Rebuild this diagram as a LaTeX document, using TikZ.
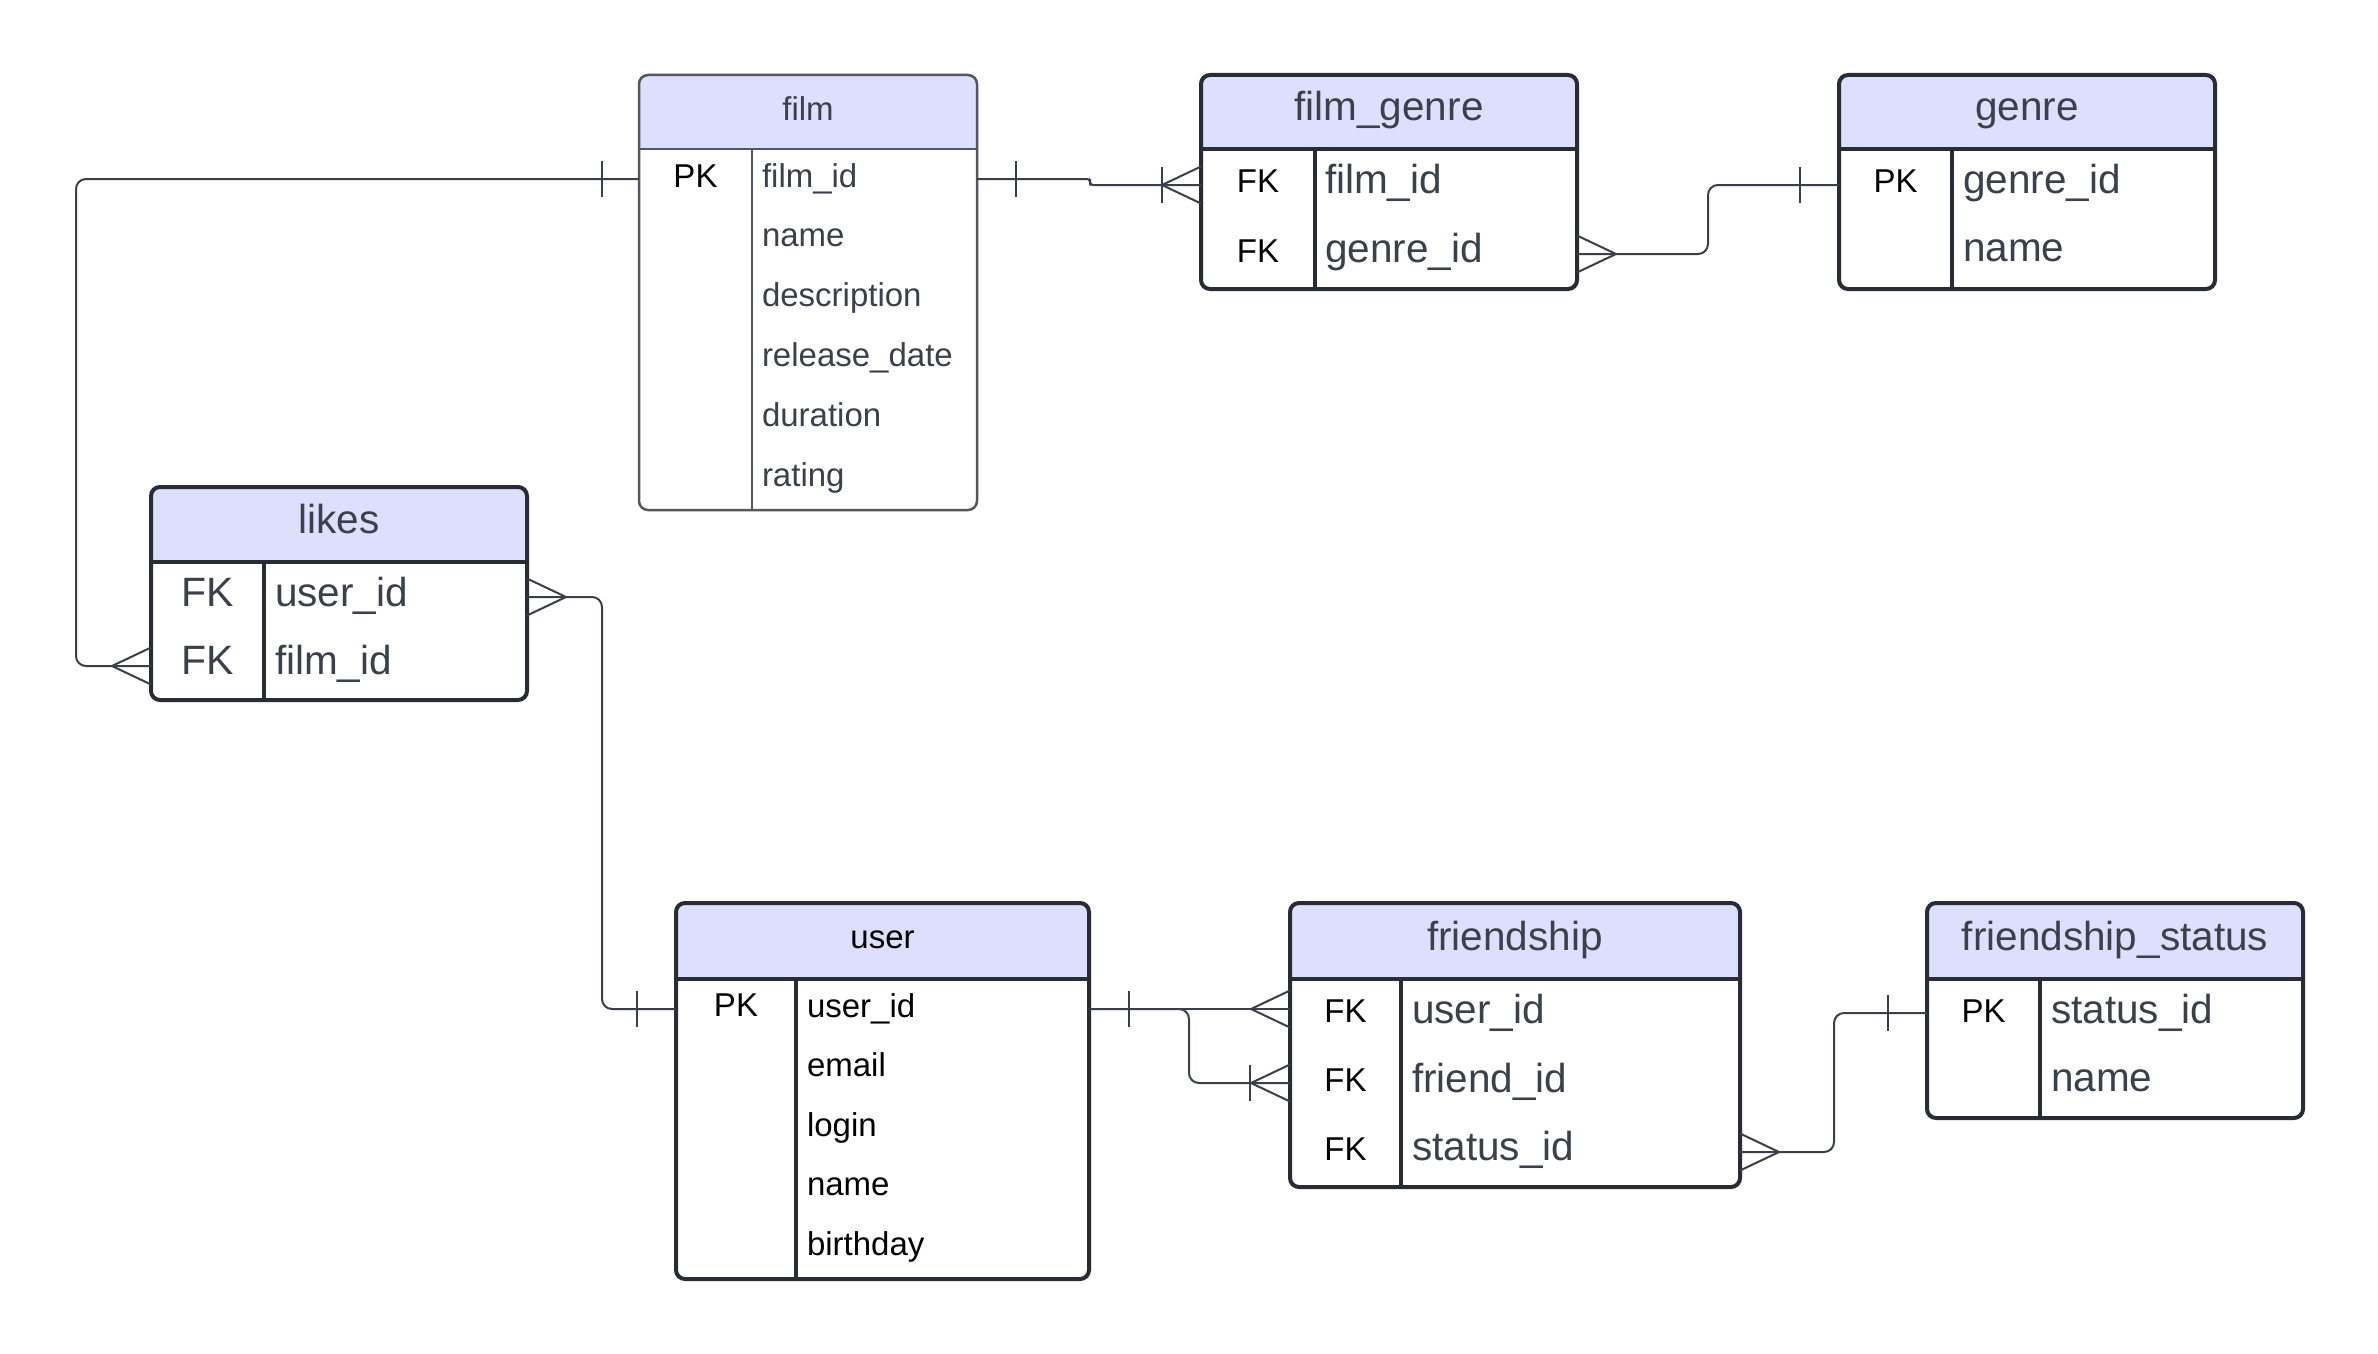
\documentclass[tikz,border=0pt]{standalone}
\usepackage{fontspec}
\setmainfont{Liberation Sans}
\usetikzlibrary{calc}

\definecolor{hdrfill}{RGB}{222,222,255}
\definecolor{ink}{RGB}{58,65,74}
\definecolor{edge}{RGB}{40,44,51}
\definecolor{wire}{RGB}{58,63,72}

\tikzset{
  frame/.style={draw=edge, line width=4pt},
  thinframe/.style={draw=edge!80!white, line width=2.5pt},
  conn/.style={draw=wire, line width=2pt},
  route/.style={conn, rounded corners=10pt},
  txt/.style={inner sep=0pt, outer sep=0pt},
  hbig/.style={txt, anchor=base, text=ink, font=\fontsize{40.5}{48}\selectfont},
  fbig/.style={txt, anchor=base west, text=ink, font=\fontsize{40.5}{48}\selectfont},
  kbig/.style={txt, anchor=base, text=black, font=\fontsize{33}{40}\selectfont},
  hsmall/.style={txt, anchor=base, font=\fontsize{33}{40}\selectfont},
  fsmall/.style={txt, anchor=base west, font=\fontsize{33}{40}\selectfont},
  ksmall/.style={txt, anchor=base, text=black, font=\fontsize{33}{40}\selectfont},
  crowleft/.pic={\draw[conn] (-39,0) -- (0,-18.5) (-39,0) -- (0,18.5);},
  crowright/.pic={\draw[conn] (39,0) -- (0,-18.5) (39,0) -- (0,18.5);},
  onebar/.pic={\draw[conn] (0,-18) -- (0,18);}
}

% #1 name, #2 left, #3 top, #4 right, #5 bottom, #6 header bottom, #7 key divider, #8 frame style
\newcommand\ertable[8]{%
  \node[inner sep=0pt, outer sep=0pt, minimum width={#4pt-#2pt}, minimum height={#5pt-#3pt}, anchor=north west] (#1) at (#2,#3) {};
  \begin{scope}
    \clip (#2,#3) rectangle (#4,#6);
    \fill[hdrfill, rounded corners=9pt] (#2,#3) rectangle (#4,#5);
  \end{scope}
  \draw[#8] (#2,#6) -- (#4,#6);
  \draw[#8] (#7,#6) -- (#7,#5);
  \draw[#8, rounded corners=9pt] (#2,#3) rectangle (#4,#5);
}

\begin{document}
\begin{tikzpicture}[x=1pt,y=-1pt]
\useasboundingbox (0,0) rectangle (2378,1354);
\fill[white] (0,0) rectangle (2378,1354);

% ---------- film ----------
\ertable{film}{639}{75}{977}{510}{149}{752}{thinframe}
\node[hsmall, text=ink] (film-h) at (808,120) {film};
\node[ksmall] (film-k1) at (695.5,187) {PK};
\foreach \t [count=\i] in {film\_id,name,description,release\_date,duration,rating}
  \node[fsmall, text=ink] (film-f\i) at (762,{187+59.8*(\i-1)}) {\t};

% ---------- film_genre ----------
\ertable{fg}{1201}{75}{1577}{289}{149}{1315}{frame}
\node[hbig] (fg-h) at (1389,120) {film\_genre};
\node[kbig] (fg-k1) at (1258,192) {FK};
\node[kbig] (fg-k2) at (1258,262) {FK};
\node[fbig] (fg-f1) at (1325,193.5) {film\_id};
\node[fbig] (fg-f2) at (1325,262.5) {genre\_id};

% ---------- genre ----------
\ertable{genre}{1839}{75}{2215}{289}{149}{1952}{frame}
\node[hbig] (genre-h) at (2027,120) {genre};
\node[kbig] (genre-k1) at (1895.5,192) {PK};
\node[fbig] (genre-f1) at (1963,193) {genre\_id};
\node[fbig] (genre-f2) at (1963,261.5) {name};

% ---------- likes ----------
\ertable{likes}{151}{487}{527}{700}{562}{264}{frame}
\node[hbig] (likes-h) at (339,533) {likes};
\node[hbig, font=\fontsize{41}{48}\selectfont] (likes-k1) at (207.5,606) {FK};
\node[hbig, font=\fontsize{41}{48}\selectfont] (likes-k2) at (207.5,674) {FK};
\node[fbig] (likes-f1) at (275,606) {user\_id};
\node[fbig] (likes-f2) at (275,674.5) {film\_id};

% ---------- user ----------
\ertable{user}{676}{903}{1089}{1279}{979}{796}{frame}
\node[hsmall, text=black] (user-h) at (882.5,948) {user};
\node[ksmall] (user-k1) at (736,1016.5) {PK};
\foreach \t [count=\i] in {user\_id,email,login,name,birthday}
  \node[fsmall, text=black] (user-f\i) at (807,{1017+59.5*(\i-1)}) {\t};

% ---------- friendship ----------
\ertable{fr}{1290}{903}{1740}{1187}{979}{1401}{frame}
\node[hbig] (fr-h) at (1515,950) {friendship};
\node[kbig] (fr-k1) at (1345.5,1022.5) {FK};
\node[kbig] (fr-k2) at (1345.5,1091) {FK};
\node[kbig] (fr-k3) at (1345.5,1160) {FK};
\node[fbig] (fr-f1) at (1412,1023.5) {user\_id};
\node[fbig] (fr-f2) at (1412,1092) {friend\_id};
\node[fbig] (fr-f3) at (1412,1160.5) {status\_id};

% ---------- friendship_status ----------
\ertable{fs}{1927}{903}{2303}{1118}{979}{2040}{frame}
\node[hbig] (fs-h) at (2115,950) {friendship\_status};
\node[kbig] (fs-k1) at (1983.5,1022) {PK};
\node[fbig] (fs-f1) at (2051,1023) {status\_id};
\node[fbig] (fs-f2) at (2051,1091) {name};

% ---------- attachment points on the rows ----------
\coordinate (film-pk-w) at (film.west |- 0,179);
\coordinate (film-pk-e) at (film.east |- 0,179);
\coordinate (fg-film-w) at (fg.west |- 0,185);
\coordinate (fg-genre-e) at (fg.east |- 0,254);
\coordinate (genre-pk-w) at (genre.west |- 0,185);
\coordinate (likes-user-e) at (likes.east |- 0,597);
\coordinate (likes-film-w) at (likes.west |- 0,666);
\coordinate (user-pk-w) at (user.west |- 0,1009);
\coordinate (user-pk-e) at (user.east |- 0,1009);
\coordinate (fr-user-w) at (fr.west |- 0,1009);
\coordinate (fr-friend-w) at (fr.west |- 0,1083);
\coordinate (fr-status-e) at (fr.east |- 0,1152);
\coordinate (fs-pk-w) at (fs.west |- 0,1013);

% routing columns
\coordinate (colA) at (76,400);
\coordinate (jogB) at (1090,182);
\coordinate (colC) at (1708,220);
\coordinate (colD) at (602,800);
\coordinate (colF) at (1189,1050);
\coordinate (colG) at (1834,1080);

% ---------- relationships ----------
% film -> likes
\draw[route] (film-pk-w) -| (colA) |- (likes-film-w);
\pic at ($(film-pk-w)+(-37,0)$) {onebar};
\pic at (likes-film-w) {crowleft};

% film -> film_genre
\draw[conn, rounded corners=3pt] (film-pk-e) -| (jogB) |- (fg-film-w);
\pic at ($(film-pk-e)+(39,0)$) {onebar};
\pic at ($(fg-film-w)+(-39,0)$) {onebar};
\pic at (fg-film-w) {crowleft};

% film_genre -> genre
\draw[route] (fg-genre-e) -| (colC) |- (genre-pk-w);
\pic at (fg-genre-e) {crowright};
\pic at ($(genre-pk-w)+(-39,0)$) {onebar};

% likes -> user
\draw[route] (likes-user-e) -| (colD) |- (user-pk-w);
\pic at (likes-user-e) {crowright};
\pic at ($(user-pk-w)+(-39,0)$) {onebar};

% user -> friendship (user_id, friend_id)
\draw[conn] (user-pk-e) -- (fr-user-w);
\draw[route] (user-pk-e) -| (colF) |- (fr-friend-w);
\pic at ($(user-pk-e)+(40,0)$) {onebar};
\pic at (fr-user-w) {crowleft};
\pic at ($(fr-friend-w)+(-40,0)$) {onebar};
\pic at (fr-friend-w) {crowleft};

% friendship -> friendship_status
\draw[route] (fr-status-e) -| (colG) |- (fs-pk-w);
\pic at (fr-status-e) {crowright};
\pic at ($(fs-pk-w)+(-39,0)$) {onebar};

\end{tikzpicture}
\end{document}
